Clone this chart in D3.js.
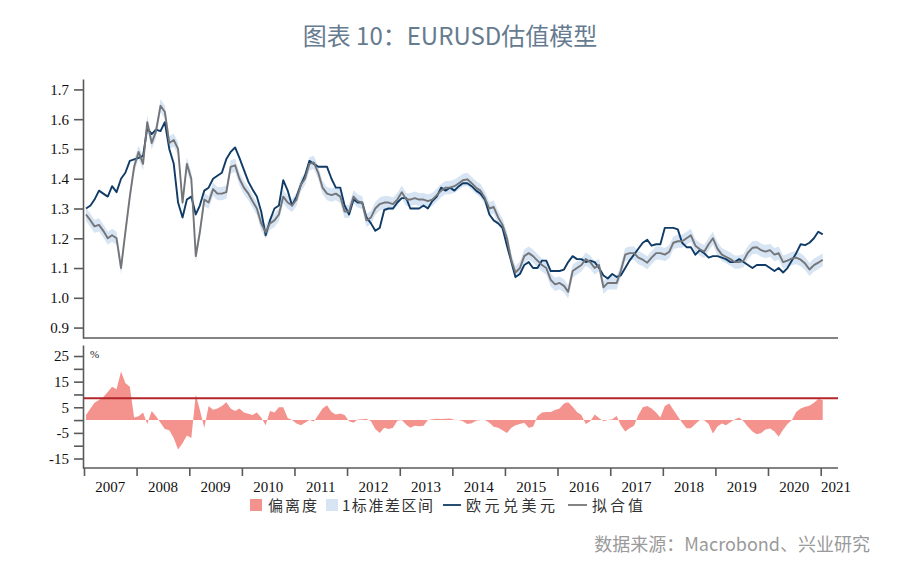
<!DOCTYPE html>
<html><head><meta charset="utf-8">
<script src="https://cdn.jsdelivr.net/npm/d3@7"></script>
<style>body{margin:0;background:#fff} svg{display:block}</style>
</head><body><svg id="c" width="900" height="566"></svg>
<script>
// ---------- data (monthly, Jan 2007 – Jan 2021) ----------
const yearLabels = [2007,2008,2009,2010,2011,2012,2013,2014,2015,2016,2017,2018,2019,2020,2021];
const topTicks = [0.9,1.0,1.1,1.2,1.3,1.4,1.5,1.6,1.7];
const bottomTicks = [-15,-10,-5,0,5,10,15,20,25];
const bottomLabeled = [-15,-5,5,15,25];
const threshold = 8.5;      // red horizontal line in the deviation panel (%)
const bandSigma = 0.022;    // 1 standard deviation around the fitted value
const legendLabels = ["偏离度","1标准差区间","欧元兑美元","拟合值"];

const eurusd = [
 1.300,1.310,1.330,1.360,1.350,1.340,1.375,1.355,1.400,1.420,1.460,1.465,
 1.470,1.477,1.570,1.550,1.565,1.560,1.590,1.500,1.450,1.320,1.270,1.330,
 1.340,1.280,1.310,1.360,1.370,1.400,1.410,1.420,1.466,1.490,1.505,1.470,
 1.430,1.390,1.365,1.340,1.290,1.210,1.260,1.300,1.310,1.395,1.360,1.310,
 1.340,1.380,1.410,1.460,1.450,1.440,1.440,1.440,1.400,1.370,1.370,1.310,
 1.280,1.330,1.320,1.320,1.270,1.250,1.225,1.235,1.295,1.300,1.300,1.320,
 1.335,1.335,1.300,1.300,1.300,1.310,1.300,1.325,1.340,1.370,1.360,1.370,
 1.360,1.375,1.385,1.385,1.375,1.360,1.350,1.330,1.280,1.260,1.250,1.235,
 1.175,1.120,1.070,1.080,1.110,1.120,1.100,1.100,1.125,1.125,1.090,1.090,
 1.090,1.095,1.120,1.140,1.130,1.130,1.120,1.125,1.120,1.100,1.075,1.065,
 1.080,1.070,1.075,1.100,1.125,1.145,1.165,1.185,1.195,1.175,1.180,1.180,
 1.235,1.235,1.235,1.230,1.185,1.170,1.170,1.145,1.160,1.150,1.135,1.140,
 1.140,1.135,1.130,1.120,1.120,1.130,1.120,1.110,1.100,1.110,1.110,1.110,
 1.100,1.090,1.100,1.085,1.100,1.125,1.150,1.180,1.177,1.185,1.200,1.222,
 1.213
];
const fitted = [
 1.280,1.260,1.240,1.245,1.225,1.200,1.210,1.200,1.100,1.220,1.340,1.440,
 1.490,1.450,1.590,1.520,1.560,1.645,1.625,1.520,1.530,1.500,1.320,1.450,
 1.400,1.140,1.220,1.330,1.320,1.365,1.350,1.350,1.355,1.440,1.445,1.400,
 1.370,1.350,1.325,1.300,1.250,1.220,1.250,1.260,1.280,1.340,1.320,1.310,
 1.330,1.380,1.400,1.450,1.455,1.420,1.370,1.350,1.345,1.350,1.340,1.290,
 1.290,1.340,1.325,1.320,1.260,1.270,1.300,1.315,1.320,1.320,1.315,1.330,
 1.355,1.330,1.330,1.335,1.330,1.330,1.325,1.330,1.345,1.360,1.370,1.370,
 1.375,1.385,1.395,1.398,1.385,1.370,1.360,1.335,1.300,1.305,1.270,1.245,
 1.200,1.125,1.085,1.100,1.140,1.150,1.140,1.125,1.110,1.100,1.060,1.045,
 1.050,1.040,1.020,1.090,1.100,1.110,1.130,1.120,1.100,1.110,1.035,1.050,
 1.050,1.050,1.090,1.145,1.150,1.150,1.135,1.128,1.118,1.135,1.150,1.150,
 1.145,1.155,1.185,1.190,1.190,1.200,1.210,1.175,1.163,1.155,1.180,1.200,
 1.165,1.145,1.138,1.130,1.120,1.120,1.125,1.152,1.168,1.170,1.160,1.155,
 1.160,1.145,1.150,1.120,1.125,1.132,1.135,1.128,1.115,1.095,1.110,1.118,
 1.128
];
const deviation = [
 2,4.5,6.8,7.8,9,11,13,12,19,14.5,13,1,
 1.5,3,-1.5,3.5,1.5,-1,-3.5,-4,-7,-11.5,-9,-6,
 -7,10,4,-3,5.5,4,4.5,5.5,7,4.5,3.5,4.5,
 3,2.5,2,3,1,-2,3.5,3,5,5,0.8,0,
 -1.3,-2,-1,0,-0.6,2,4.5,5.8,3.2,2.2,2.6,2,
 -0.5,-1,0.2,0.3,0.5,-0.5,-3.5,-5,-3,-3.5,-3,-0.3,
 0,-1.8,-3,-2.2,-2.4,-2.2,0,0.3,0.5,0.4,0.5,0.6,
 0.1,0,-0.5,-1.5,-1.2,-0.3,0,0,-1,-2.6,-3,-4,
 -5,-3,-2,-1.5,-1,-3,-2.6,1.5,3,3.2,3.2,3.9,
 4.5,6.5,7,5.2,3.2,2,-1.5,-0.5,2.2,0.8,-0.5,0,
 0.3,1.6,-2,-4.5,-3.2,-2.2,2,5,5.5,4.5,3,1,
 5.5,6.5,4,1.5,-1,-3.2,-3.2,-1.5,0,-0.1,-1.5,-5.2,
 -2.5,-1.3,-2,-0.8,0.2,1,-0.5,-2.6,-4.5,-5.5,-5,-3.7,
 -3.3,-4.5,-6.5,-3.8,-1.5,0,3.2,4.5,5.2,5.6,6.8,8.2,
 7.8
];
// month dates (mid-month) matching the arrays above
const months = d3.timeMonth.range(new Date(2007,0,1), new Date(2021,1,1))
  .map(d => new Date(d.getFullYear(), d.getMonth(), 15));

// ---------- drawing ----------
const svg = d3.select("#c");
const serif = "'Liberation Serif','Times New Roman',serif";
const cjk = "'Noto Sans CJK SC','Noto Sans',sans-serif";
const axisColor = "#5a5a5a";

const x = d3.scaleTime().domain([new Date(2007,0,1), new Date(2021,4,1)]).range([84, 838]);
const yTop = d3.scaleLinear().domain([0.865, 1.735]).range([338, 79]);
const yBot = d3.scaleLinear().domain([-18.7, 29.3]).range([468, 345]);
const xL = 83, xR = 838;

// title
svg.append("text").attr("x", 450).attr("y", 45).attr("text-anchor","middle")
  .attr("font-family", cjk).attr("font-size", 24).attr("font-weight", 400)
  .attr("fill", "#667b8f").text("图表 10：EURUSD估值模型");

// top panel: band, lines
const band = d3.area().x((d,i)=>x(months[i]))
  .y0(d=>yTop(d - bandSigma)).y1(d=>yTop(d + bandSigma));
svg.append("path").datum(fitted).attr("d", band).attr("fill", "#d6e4f3");

const lineTop = d3.line().x((d,i)=>x(months[i])).y(d=>yTop(d));
svg.append("path").datum(eurusd).attr("d", lineTop).attr("fill","none")
  .attr("stroke", "#0f3b66").attr("stroke-width", 1.9).attr("stroke-linejoin","round");
svg.append("path").datum(fitted).attr("d", lineTop).attr("fill","none")
  .attr("stroke", "#747578").attr("stroke-width", 1.9).attr("stroke-linejoin","round");

// top axis
const gTop = svg.append("g").attr("transform", `translate(${xL},0)`)
  .call(d3.axisLeft(yTop).tickValues(topTicks).tickFormat(d3.format(".1f"))
    .tickSize(9).tickSizeOuter(0).tickPadding(5));
svg.append("line").attr("x1", xL).attr("x2", xR).attr("y1", 338).attr("y2", 338)
  .attr("stroke", axisColor).attr("stroke-width", 1.6);

// bottom panel
const area = d3.area().x((d,i)=>x(months[i])).y0(yBot(0)).y1(d=>yBot(d));
svg.append("path").datum(deviation).attr("d", area).attr("fill", "#f4938e");
svg.append("line").attr("x1", xL).attr("x2", xR)
  .attr("y1", yBot(threshold)).attr("y2", yBot(threshold))
  .attr("stroke", "#b3262b").attr("stroke-width", 2);

const gBot = svg.append("g").attr("transform", `translate(${xL},0)`)
  .call(d3.axisLeft(yBot).tickValues(bottomTicks)
    .tickFormat(d => bottomLabeled.includes(d) ? String(d) : "")
    .tickSize(9).tickSizeOuter(0).tickPadding(5));
svg.append("text").attr("x", 90).attr("y", 358).attr("font-family", serif)
  .attr("font-size", 11).attr("fill", "#222").text("%");

// x axis
const yearDates = yearLabels.map(y => new Date(y,0,1));
const gX = svg.append("g").attr("transform", "translate(0,468)")
  .call(d3.axisBottom(x).tickValues(yearDates).tickFormat("").tickSize(8).tickSizeOuter(0));
gX.select(".domain").remove();
svg.append("line").attr("x1", xL).attr("x2", xR).attr("y1", 468).attr("y2", 468)
  .attr("stroke", axisColor).attr("stroke-width", 1.6);
svg.selectAll("text.year").data(yearLabels).join("text").attr("class","year")
  .attr("x", y => Math.min((x(new Date(y,0,1)) + x(new Date(y+1,0,1)))/2, xR - 2))
  .attr("y", 492).attr("text-anchor","middle")
  .attr("font-family", serif).attr("font-size", 15).attr("fill", "#111").text(y => y);

[gTop, gBot, gX].forEach(g => {
  g.selectAll(".domain").attr("stroke", axisColor).attr("stroke-width", 1.6);
  g.selectAll(".tick line").attr("stroke", axisColor).attr("stroke-width", 1.6);
  g.selectAll(".tick text").attr("font-family", serif).attr("font-size", 15).attr("fill", "#111");
});

// legend
const lg = svg.append("g").attr("font-family", cjk).attr("font-size", 15).attr("fill", "#333");
function legendText(x0, width, label) {
  lg.append("text").attr("x", x0).attr("y", 510.5)
    .attr("textLength", width).attr("lengthAdjust", "spacing").text(label);
}
lg.append("rect").attr("x", 250).attr("y", 499).attr("width", 12).attr("height", 12).attr("fill", "#f4938e");
legendText(268, 49, legendLabels[0]);
lg.append("rect").attr("x", 326).attr("y", 499).attr("width", 12).attr("height", 12).attr("fill", "#d6e4f3");
legendText(342, 91, legendLabels[1]);
lg.append("line").attr("x1", 443).attr("x2", 461).attr("y1", 505).attr("y2", 505)
  .attr("stroke", "#0f3b66").attr("stroke-width", 1.8);
legendText(466, 89, legendLabels[2]);
lg.append("line").attr("x1", 568).attr("x2", 587).attr("y1", 505).attr("y2", 505)
  .attr("stroke", "#747578").attr("stroke-width", 1.8);
legendText(592, 51, legendLabels[3]);

// source
svg.append("text").attr("x", 870).attr("y", 551).attr("text-anchor","end")
  .attr("font-family", cjk).attr("font-size", 18).attr("fill", "#9a9a9a")
  .text("数据来源：Macrobond、兴业研究");
</script></body></html>
